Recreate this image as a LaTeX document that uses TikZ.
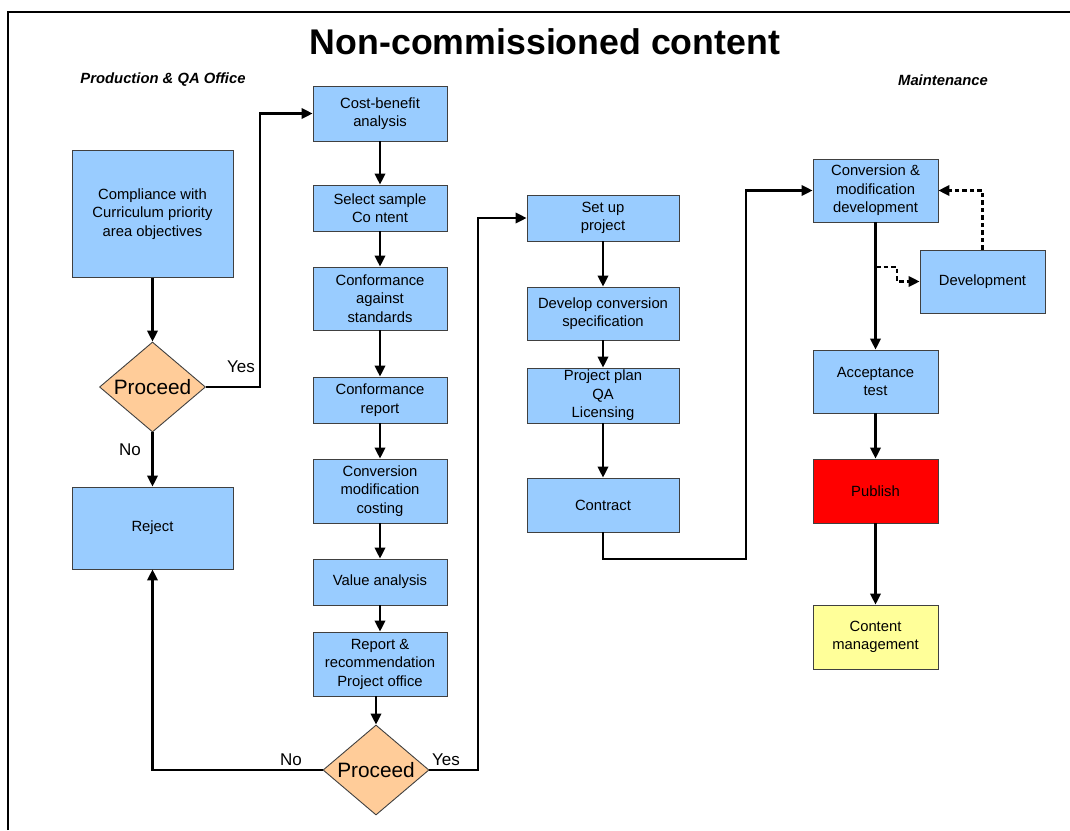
\documentclass[tikz,border=0pt]{standalone}
\usepackage{fontspec}
\setmainfont{Liberation Sans}
\usetikzlibrary{shapes.geometric,arrows.meta}

\definecolor{boxblue}{HTML}{99CCFF}
\definecolor{decorange}{HTML}{FFCC99}
\definecolor{pubred}{HTML}{FF0000}
\definecolor{cmyellow}{HTML}{FFFF99}

\begin{document}
\begin{tikzpicture}[x=1pt,y=-1pt]
	\tikzstyle{every node}=[font=\fontsize{14.8}{18.5}\selectfont]
	\tikzstyle{proc}=[draw=black!75, line width=0.9pt, fill=boxblue, align=center, inner sep=2pt]
	\tikzstyle{decide}=[diamond, aspect=1.18, draw=black!75, line width=0.9pt, fill=decorange, inner sep=0pt, minimum width=106pt, minimum height=90pt, font=\fontsize{20.8}{24}\selectfont]
	\tikzstyle{flow}=[line width=2.2pt, -{Triangle[length=11pt,width=10.5pt]}]
	\tikzstyle{dflow}=[flow, dashed, dash pattern=on 4.5pt off 3pt]
	\tikzstyle{lbl}=[font=\fontsize{17}{20}\selectfont]
	
	\useasboundingbox (0,0) rectangle (1070,830);
	\draw [line width=2.4pt] (8,830) -- (8,12) -- (1070,12);
	
	\node (title) at (545,42) {\fontsize{35.7}{42}\selectfont\bfseries Non-commissioned content};
	\node (office) at (163,80) {\fontsize{14.8}{17}\selectfont\bfseries\itshape Production \& QA Office};
	\node (maint) at (943,80) {\fontsize{14.8}{17}\selectfont\bfseries\itshape Maintenance};
	
	% first column
	\node [proc, minimum width=161pt, minimum height=127pt] (compl) at (152.5,214) {Compliance with\\Curriculum priority\\area objectives};
	\node [decide] (dec1) at (152.5,387) {Proceed};
	\node [proc, minimum width=161pt, minimum height=82pt] (reject) at (152.5,528) {Reject};
	
	% second column
	\node [proc, minimum width=134pt, minimum height=55pt] (cost) at (380,113.5) {Cost-benefit\\analysis};
	\node [proc, minimum width=134pt, minimum height=46pt] (select) at (380,208) {Select sample\\Co ntent};
	\node [proc, minimum width=134pt, minimum height=63pt] (conf) at (380,298.5) {Conformance\\against\\standards};
	\node [proc, minimum width=134pt, minimum height=46pt] (confrep) at (380,400) {Conformance\\report};
	\node [proc, minimum width=134pt, minimum height=64pt] (costing) at (380,491) {Conversion\\modification\\costing};
	\node [proc, minimum width=134pt, minimum height=46pt] (value) at (380,582) {Value analysis};
	\node [proc, minimum width=134pt, minimum height=64pt] (report) at (380,664) {Report \&\\recommendation\\Project office};
	\node [decide] (dec2) at (376,770) {Proceed};
	
	% third column
	\node [proc, minimum width=152pt, minimum height=46pt] (setup) at (603,218) {Set up\\project};
	\node [proc, minimum width=152pt, minimum height=53pt] (spec) at (603,313.5) {Develop conversion\\specification};
	\node [proc, minimum width=152pt, minimum height=55pt] (plan) at (603,395.5) {Project plan\\QA\\Licensing};
	\node [proc, minimum width=152pt, minimum height=54pt] (contract) at (603,505) {Contract};
	
	% maintenance
	\node [proc, minimum width=125pt, minimum height=63pt] (convdev) at (875.5,190.5) {Conversion \&\\modification\\development};
	\node [proc, minimum width=125pt, minimum height=63pt] (devel) at (982.5,281.5) {Development};
	\node [proc, minimum width=125pt, minimum height=63pt] (accept) at (875.5,381.5) {Acceptance\\test};
	\node [proc, minimum width=125pt, minimum height=64pt, fill=pubred] (publish) at (875.5,491) {Publish};
	\node [proc, minimum width=125pt, minimum height=64pt, fill=cmyellow] (content) at (875.5,637) {Content\\management};
	
	\coordinate (yes1) at (260,0);
	\coordinate (yes2) at (478,0);
	\coordinate (jog) at (746,559);
	\coordinate (split) at (876,267);
	
	\draw [flow] (compl) -- (dec1);
	\draw [flow] (dec1.east) -- (dec1.east -| yes1) |- (cost.west);
	\draw [flow] (dec1) -- (reject);
	\node [lbl] (yeslbl1) at (241,367) {Yes};
	\node [lbl] (nolbl1) at (130,450) {No};
	
	\draw [flow] (cost) -- (select);
	\draw [flow] (select) -- (conf);
	\draw [flow] (conf) -- (confrep);
	\draw [flow] (confrep) -- (costing);
	\draw [flow] (costing) -- (value);
	\draw [flow] (value) -- (report);
	\draw [flow] (report.south -| dec2.north) -- (dec2.north);
	\draw [flow] (dec2.west) -| (reject.south);
	\draw [flow] (dec2.east) -- (dec2.east -| yes2) |- (setup.west);
	\node [lbl] (nolbl2) at (291,760) {No};
	\node [lbl] (yeslbl2) at (446,760) {Yes};
	
	\draw [flow] (setup) -- (spec);
	\draw [flow] (spec) -- (plan);
	\draw [flow] (plan) -- (contract);
	\draw [flow] (contract.south) |- (jog) |- (convdev.west);
	
	\draw [flow] (convdev) -- (accept);
	\draw [dflow] (split) -- ++(21,0) |- (devel.west);
	\draw [dflow] (devel.north) |- (convdev.east);
	\draw [flow] (accept) -- (publish);
	\draw [flow] (publish) -- (content);
	
\end{tikzpicture}
\end{document}
